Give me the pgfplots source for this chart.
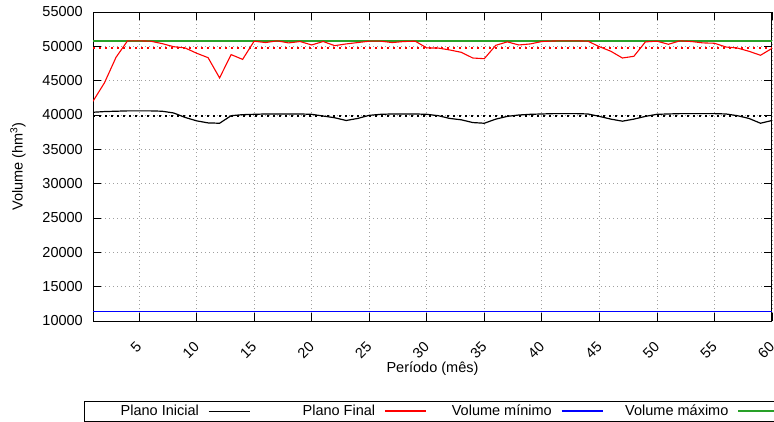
\documentclass[border=0pt]{standalone}
\usepackage{pgfplots}
\pgfplotsset{compat=1.18}
\usepackage{fontspec}
\setmainfont{Liberation Sans}
\definecolor{vmax}{RGB}{40,160,40}
\definecolor{cred}{RGB}{255,0,0}
\definecolor{cblue}{RGB}{0,0,255}
\definecolor{gridgray}{RGB}{160,160,160}
\begin{document}
\fontsize{14.5}{17}\selectfont
\begin{tikzpicture}[font=\fontsize{14.5}{17}\selectfont]
\begin{axis}[
  at={(93pt,100pt)}, anchor=south west,
  scale only axis, width=679pt, height=309pt,
  xmin=1, xmax=60, ymin=10000, ymax=55000,
  xtick={5,10,...,60}, ytick={10000,15000,...,55000},
  scaled ticks=false,
  /pgf/number format/.cd, set thousands separator={}, assume math mode=true, /pgfplots/.cd,
  tick align=inside, major tick length=8pt,
  tick style={black, line width=0.8pt},
  axis line style={line width=1pt},
  grid=major,
  major grid style={gridgray, line width=0.7pt, dash pattern=on 1pt off 3pt},
  xticklabel style={inner sep=0pt, xshift=0pt, yshift=-23.5pt, rotate=45, anchor=east},
  yticklabel style={inner sep=0pt, xshift=-10pt},
  xlabel={Período (mês)},
  ylabel={Volume (hm\textsuperscript{3})},
  xlabel style={at={(axis description cs:0.5,-0.1553)}, anchor=center},
  ylabel style={at={(axis description cs:-0.1105,0.5)}, anchor=center},
  legend columns=4, legend plot pos=right,
  legend image code/.code={\draw[#1] (0pt,0pt) -- (41pt,0pt);},
  legend style={at={(rel axis cs:0,0)}, anchor=north west, xshift=-9.3pt, yshift=-80pt,
    inner xsep=0pt, inner ysep=3.5pt,
    nodes={inner sep=0pt, text height=10.5pt, text depth=2.5pt},
    /tikz/every odd column/.append style={column sep=9pt},
    /tikz/every even column/.append style={column sep=10pt}},
]
% Volume maximo (drawn first, under the red line)
\addplot[forget plot, color=vmax, line width=2pt] coordinates {(1,50800) (60,50800)};
% reference dotted levels
\addplot[forget plot, color=cred, line width=2pt, dash pattern=on 2pt off 4pt] coordinates {(1,49700) (60,49700)};
\addplot[forget plot, color=black, line width=2pt, dash pattern=on 2pt off 4pt] coordinates {(1,39850) (60,39850)};
% Volume minimo
\addplot[forget plot, color=cblue, line width=1.6pt] coordinates {(1,11400) (60,11400)};
% Plano Inicial
\addplot[forget plot, color=black, line width=1.2pt] coordinates {
(1,40400) (2,40500) (3,40550) (4,40600) (5,40600) (6,40600) (7,40550) (8,40300) (9,39650) (10,39150)
(11,38850) (12,38800) (13,39900) (14,40050) (15,40100) (16,40150) (17,40150) (18,40150) (19,40150) (20,40100)
(21,39850) (22,39600) (23,39200) (24,39500) (25,39950) (26,40100) (27,40150) (28,40150) (29,40150) (30,40100)
(31,39900) (32,39500) (33,39300) (34,38900) (35,38800) (36,39400) (37,39800) (38,40000) (39,40100) (40,40150)
(41,40200) (42,40200) (43,40200) (44,40150) (45,39800) (46,39400) (47,39100) (48,39400) (49,39800) (50,40100)
(51,40150) (52,40200) (53,40200) (54,40200) (55,40200) (56,40150) (57,39900) (58,39500) (59,38800) (60,39200)
};
% Plano Final
\addplot[forget plot, color=cred, line width=1.1pt] coordinates {
(1,42000) (2,44700) (3,48400) (4,50800) (5,50800) (6,50750) (7,50400) (8,49950) (9,49770) (10,49000)
(11,48350) (12,45400) (13,48800) (14,48100) (15,50750) (16,50550) (17,50800) (18,50500) (19,50700) (20,50200)
(21,50700) (22,50100) (23,50350) (24,50550) (25,50750) (26,50750) (27,50550) (28,50700) (29,50750) (30,49770)
(31,49750) (32,49470) (33,49130) (34,48300) (35,48200) (36,50150) (37,50650) (38,50200) (39,50350) (40,50700)
(41,50780) (42,50800) (43,50800) (44,50750) (45,49950) (46,49280) (47,48300) (48,48550) (49,50650) (50,50750)
(51,50300) (52,50800) (53,50700) (54,50500) (55,50450) (56,49900) (57,49750) (58,49280) (59,48700) (60,49700)
};
\addlegendimage{color=black, line width=1.3pt}
\addlegendimage{color=cred, line width=1.6pt}
\addlegendimage{color=cblue, line width=1.6pt}
\addlegendimage{color=vmax, line width=1.6pt}
\legend{\makebox[115pt][r]{Plano Inicial}, \makebox[115pt][r]{Plano Final}, \makebox[115pt][r]{Volume mínimo}, \makebox[115pt][r]{Volume máximo}}
\end{axis}
\pgfresetboundingbox
\useasboundingbox (0,0) rectangle (774pt,421pt);
\end{tikzpicture}
\end{document}
